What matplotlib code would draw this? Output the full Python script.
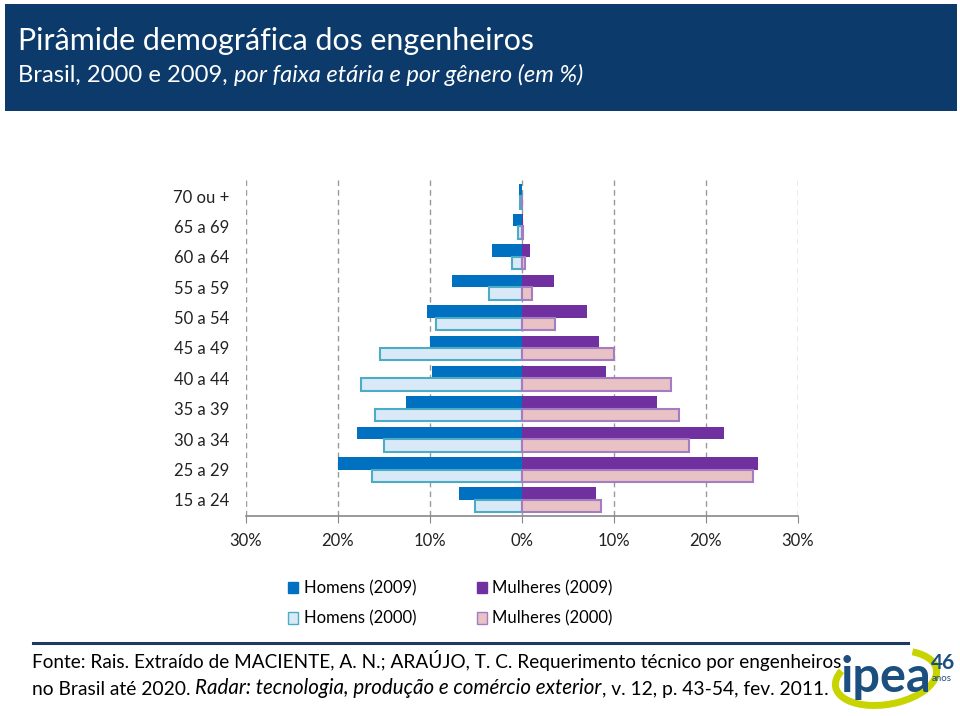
import matplotlib
matplotlib.use("Agg")
import matplotlib.pyplot as plt
import numpy as np
from matplotlib.patches import Rectangle, Arc, Patch

plt.rcParams['font.family'] = ['Lato', 'DejaVu Sans']

# Dados (em %)
faixas = ["70 ou +", "65 a 69", "60 a 64", "55 a 59", "50 a 54", "45 a 49",
          "40 a 44", "35 a 39", "30 a 34", "25 a 29", "15 a 24"]
homens_2009 = [0.35, 1.0, 3.3, 7.6, 10.3, 10.05, 9.75, 12.6, 17.9, 20.0, 6.85]
homens_2000 = [0.2, 0.45, 1.1, 3.6, 9.35, 15.4, 17.5, 15.95, 15.0, 16.3, 5.15]
mulheres_2009 = [0.05, 0.15, 0.9, 3.5, 7.1, 8.4, 9.1, 14.7, 22.0, 25.65, 8.05]
mulheres_2000 = [0.05, 0.1, 0.3, 1.1, 3.6, 10.0, 16.2, 17.1, 18.15, 25.15, 8.55]
ticks_x = [-30, -20, -10, 0, 10, 20, 30]
tick_labels_x = ["30%", "20%", "10%", "0%", "10%", "20%", "30%"]

W, H = 960, 716
fig = plt.figure(figsize=(W / 100, H / 100), dpi=100)

def fx(x):
    return x / W

def fy(y):
    return 1 - y / H

# fundo para textos
bg = fig.add_axes([0, 0, 1, 1])
bg.axis('off')
bg.set_xlim(0, 1)
bg.set_ylim(0, 1)

bg.add_patch(Rectangle((fx(5), fy(111)), fx(957) - fx(5), fy(4) - fy(111),
                       facecolor='#0b3a6b', edgecolor='none'))
bg.text(fx(18), fy(50), "Pirâmide demográfica dos engenheiros", color='white',
        fontsize=21.9, va='baseline', ha='left')
t = bg.text(fx(18), fy(86), "Brasil, 2000 e 2009, ", color='white',
            fontsize=17.1, va='bottom', ha='left')
bg.annotate("por faixa etária e por gênero (em %)", xy=(1, 0), xycoords=t,
            va='bottom', ha='left', color='white', fontsize=17.1, fontstyle='italic')

# grafico
ax = fig.add_axes([fx(246), fy(516), fx(798) - fx(246), fy(180) - fy(516)])
y = np.arange(len(faixas))
h = 0.41

ax.barh(y - h / 2, -np.array(homens_2009), height=h, color='#0070c0', zorder=3)
ax.barh(y + h / 2, -np.array(homens_2000), height=h, color='#dae9f7',
        edgecolor='#4bacc6', linewidth=1.5, zorder=3)
ax.barh(y - h / 2, mulheres_2009, height=h, color='#7030a0', zorder=3)
ax.barh(y + h / 2, mulheres_2000, height=h, color='#e8c2c4',
        edgecolor='#a47cc4', linewidth=1.5, zorder=3)

ax.set_xlim(-30, 30)
ax.set_ylim(len(faixas) - 0.47, -0.53)
ax.set_yticks(y)
ax.set_yticklabels(faixas, fontsize=12, color='#222222')
ax.tick_params(axis='y', length=0, pad=12)
ax.set_xticks(ticks_x)
ax.set_xticklabels(tick_labels_x, fontsize=12, color='#222222')
ax.tick_params(axis='x', length=5, color='#888888', pad=7)

ax.grid(axis='x', linestyle=(0, (4, 3)), color='#999999', linewidth=1, zorder=0)
for s in ['top', 'right', 'left']:
    ax.spines[s].set_visible(False)
ax.spines['bottom'].set_color('#888888')
ax.spines['bottom'].set_linewidth(1.2)

# legenda
handles = [
    Patch(facecolor='#0070c0', edgecolor='#0070c0'),
    Patch(facecolor='#dae9f7', edgecolor='#4bacc6'),
    Patch(facecolor='#7030a0', edgecolor='#7030a0'),
    Patch(facecolor='#e8c2c4', edgecolor='#a47cc4'),
]
labels = ["Homens (2009)", "Homens (2000)", "Mulheres (2009)", "Mulheres (2000)"]
fig.legend(handles, labels, ncol=2, loc='upper left',
           bbox_to_anchor=(fx(280), fy(572)), frameon=False, fontsize=12,
           handlelength=0.6, handleheight=0.7, handletextpad=0.35,
           columnspacing=3.6, labelspacing=0.85, borderpad=0)

# fonte
bg.plot([fx(33), fx(908)], [fy(643), fy(643)], color='#1f3864', linewidth=2.2)
bg.text(fx(32), fy(668), "Fonte: Rais. Extraído de MACIENTE, A. N.; ARAÚJO, T. C. "
        "Requerimento técnico por engenheiros", fontsize=13.7, color='black',
        va='baseline', ha='left')
t1 = bg.text(fx(32), fy(698), "no Brasil até 2020. ", fontsize=13.9,
             color='black', va='bottom', ha='left')
t2 = bg.annotate("Radar: tecnologia, produção e comércio exterior", xy=(1, 0),
                 xycoords=t1, va='bottom', ha='left', fontsize=14.8,
                 fontstyle='italic', color='black')
bg.annotate(", v. 12, p. 43-54, fev. 2011.", xy=(1, 0), xycoords=t2,
            va='bottom', ha='left', fontsize=13.9, color='black')

# logo ipea
bg.add_patch(Arc((fx(886), fy(678)), fx(104), 52 / H, angle=18,
                 theta1=150, theta2=395, color='#c8d400', linewidth=5))
bg.text(fx(841), fy(692), "ipea", fontsize=35, fontweight='bold',
        color='#1b4f7f', va='baseline', ha='left')
bg.text(fx(931), fy(669), "46", fontsize=15, fontweight='bold',
        color='#1b4f7f', va='baseline', ha='left')
bg.text(fx(932), fy(681), "anos", fontsize=7, color='#1b4f7f',
        va='baseline', ha='left')

fig.savefig('out.png', dpi=100)
